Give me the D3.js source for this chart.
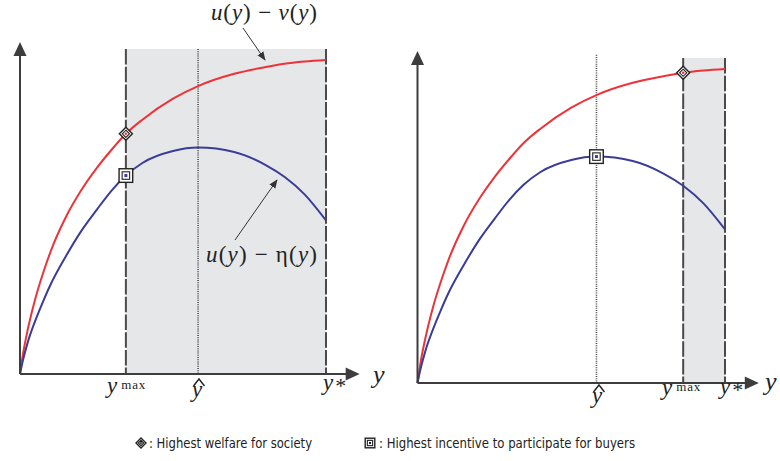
<!DOCTYPE html>
<html><head><meta charset="utf-8">
<script src="https://cdn.jsdelivr.net/npm/d3@7"></script>
<style>body{margin:0;background:#fff}svg{display:block}</style></head>
<body>
<svg id="c" width="780" height="461"></svg>
<script>
// ---- data (x in units of y*, values in units of u(y*)-v(y*)) ----
const xVals     = [0, 0.01, 0.025, 0.05, 0.075, 0.10, 0.15, 0.20, 0.25, 0.30, 0.346, 0.40, 0.50, 0.582, 0.70, 0.80, 0.864, 0.93, 1.00];
const welfare   = [0, 0.065, 0.14, 0.24, 0.32, 0.39, 0.50, 0.585, 0.655, 0.715, 0.765, 0.81, 0.877, 0.917, 0.956, 0.977, 0.988, 0.995, 1.000]; // u(y)-v(y)
const incentive = [0, 0.045, 0.10, 0.17, 0.23, 0.285, 0.375, 0.455, 0.522, 0.585, 0.632, 0.672, 0.710, 0.721, 0.707, 0.667, 0.628, 0.572, 0.489]; // u(y)-eta(y)
const yMaxValues = [0.346, 0.864];   // left panel, right panel
const yHat = 0.582, yStar = 1.0;
const legendLabels = [": Highest welfare for society", ": Highest incentive to participate for buyers"];

const RED = "#ee3338", BLUE = "#3a3d98", AX = "#3d3d3d", SHADE = "#e6e7e9", DASH = "#4a4a4a";
const SERIF = "'Liberation Serif','DejaVu Serif',serif";
const svg = d3.select("#c");

svg.append("defs").append("marker").attr("id","ah").attr("viewBox","0 0 10 10")
  .attr("refX",9).attr("refY",5).attr("markerWidth",9).attr("markerHeight",9)
  .attr("markerUnits","userSpaceOnUse").attr("orient","auto")
  .append("path").attr("d","M0,1 L10,5 L0,9 Z").attr("fill","#333");

const panels = [
  {r:[20,326], v:[374,60], ymax:yMaxValues[0], dotTop:1.035, lbl:{ymax:[107,393], hat:[192,397], star:[323,390], y:[373,383]}},
  {r:[417.5,725], v:[383,69], ymax:yMaxValues[1], dotTop:1.045, lbl:{ymax:[662,395], hat:[592,403], star:[720,394], y:[765,390]}}
];

function valAt(arr, x){ return arr[xVals.indexOf(x)]; }

function diamond(g, cx, cy, s, dotColor){
  const G = g.append("g").attr("transform",`translate(${cx},${cy})`);
  G.append("path").attr("d",`M0,${-s} L${s},0 L0,${s} L${-s},0 Z`).attr("fill","#fff").attr("stroke","#222").attr("stroke-width",1.4);
  G.append("path").attr("d",`M0,${-s*0.55} L${s*0.55},0 L0,${s*0.55} L${-s*0.55},0 Z`).attr("fill","none").attr("stroke","#222").attr("stroke-width",1.1);
  G.append("circle").attr("r",s*0.2).attr("fill",dotColor);
}
function square(g, cx, cy, s, dotColor){
  const G = g.append("g").attr("transform",`translate(${cx},${cy})`);
  G.append("rect").attr("x",-s).attr("y",-s).attr("width",2*s).attr("height",2*s).attr("fill","#fff").attr("stroke","#222").attr("stroke-width",1.4);
  G.append("rect").attr("x",-s*0.55).attr("y",-s*0.55).attr("width",1.1*s).attr("height",1.1*s).attr("fill","none").attr("stroke","#222").attr("stroke-width",1.1);
  G.append("rect").attr("x",-s*0.22).attr("y",-s*0.22).attr("width",0.44*s).attr("height",0.44*s).attr("fill",dotColor);
}

panels.forEach(p => {
  const xs = d3.scaleLinear().domain([0,1]).range(p.r);
  const ys = d3.scaleLinear().domain([0,1]).range(p.v);
  const g = svg.append("g");
  const x0 = xs(0), y0 = ys(0);

  g.append("rect").attr("x",xs(p.ymax)).attr("y",ys(1.035))
    .attr("width",xs(yStar)-xs(p.ymax)).attr("height",ys(0)-ys(1.035)).attr("fill",SHADE);
  g.append("line").attr("x1",xs(yHat)).attr("x2",xs(yHat)).attr("y1",ys(p.dotTop)).attr("y2",y0)
    .attr("stroke",DASH).attr("stroke-width",1.6).attr("stroke-dasharray","1,1.2");
  [p.ymax, yStar].forEach(v => g.append("line").attr("x1",xs(v)).attr("x2",xs(v)).attr("y1",ys(1.035)).attr("y2",y0)
    .attr("stroke",DASH).attr("stroke-width",2).attr("stroke-dasharray","15.5,2.2"));

  const line = arr => d3.line().x(d=>xs(d)).y((d,i)=>ys(arr[i])).curve(d3.curveMonotoneX)(xVals);
  g.append("path").attr("d",line(welfare)).attr("fill","none").attr("stroke",RED).attr("stroke-width",2);
  g.append("path").attr("d",line(incentive)).attr("fill","none").attr("stroke",BLUE).attr("stroke-width",2);

  const xTip = xs(1.11), yTip = ys(1.057);
  g.append("line").attr("x1",x0).attr("x2",xTip-10).attr("y1",y0).attr("y2",y0).attr("stroke",AX).attr("stroke-width",2);
  g.append("line").attr("x1",x0).attr("x2",x0).attr("y1",y0).attr("y2",yTip+10).attr("stroke",AX).attr("stroke-width",2);
  g.append("path").attr("d",`M${xTip},${y0} L${xTip-14},${y0-6.5} L${xTip-14},${y0+6.5} Z`).attr("fill",AX);
  g.append("path").attr("d",`M${x0},${yTip} L${x0-6.5},${yTip+14} L${x0+6.5},${yTip+14} Z`).attr("fill",AX);

  const L = p.lbl;
  g.append("text").attr("x",L.y[0]).attr("y",L.y[1]).attr("font-family",SERIF).attr("font-style","italic").attr("font-size",26).attr("fill","#222").text("y");
  const tm = g.append("text").attr("x",L.ymax[0]).attr("y",L.ymax[1]).attr("font-family",SERIF).attr("fill","#222");
  tm.append("tspan").attr("font-style","italic").attr("font-size",23).text("y");
  tm.append("tspan").attr("dx",4).attr("dy",-4).attr("font-size",13).attr("letter-spacing",0.8).text("max");
  g.append("text").attr("x",L.hat[0]).attr("y",L.hat[1]).attr("font-family",SERIF).attr("font-style","italic").attr("font-size",23).attr("fill","#222").text("y");
  const hx = L.hat[0]+7, hy = L.hat[1]-18;
  g.append("path").attr("d",`M${hx-5.5},${hy+7} L${hx},${hy} L${hx+5.5},${hy+7}`).attr("fill","none").attr("stroke","#222").attr("stroke-width",1.4);
  const ts = g.append("text").attr("x",L.star[0]).attr("y",L.star[1]).attr("font-family",SERIF).attr("fill","#222");
  ts.append("tspan").attr("font-style","italic").attr("font-size",23).text("y");
  ts.append("tspan").attr("dx",2).attr("dy",3).attr("font-size",22).text("*");

  diamond(g, xs(p.ymax), ys(valAt(welfare,p.ymax)), 6.5, RED);
  const sq = Math.min(p.ymax, yHat);
  square(g, xs(sq), ys(valAt(incentive,sq)), 6.8, BLUE);
});

function mathLabel(x, y, parts, len){
  const t = svg.append("text").attr("x",x).attr("y",y).attr("font-family",SERIF).attr("font-size",23).attr("fill","#222")
    .attr("textLength",len).attr("lengthAdjust","spacing");
  parts.forEach(([s,it]) => t.append("tspan").attr("font-style",it?"italic":"normal").text(s));
}
mathLabel(211, 20, [["u",1],["(",0],["y",1],[")",0],[" − ",0],["v",1],["(",0],["y",1],[")",0]], 106);
mathLabel(206, 262, [["u",1],["(",0],["y",1],[")",0],[" − ",0],["η",0],["(",0],["y",1],[")",0]], 111);
svg.append("line").attr("x1",243).attr("y1",28).attr("x2",265).attr("y2",60).attr("stroke","#333").attr("stroke-width",1).attr("marker-end","url(#ah)");
svg.append("line").attr("x1",235).attr("y1",240).attr("x2",277).attr("y2",180).attr("stroke","#333").attr("stroke-width",1).attr("marker-end","url(#ah)");

const LEG = "'Liberation Sans Narrow','DejaVu Sans Condensed','Liberation Sans',sans-serif";
diamond(svg, 141, 443, 5, "#222");
square(svg, 370, 443, 4.8, "#222");
svg.append("text").attr("x",149).attr("y",448).attr("font-family",LEG).attr("font-size",14.5).attr("fill","#222")
  .attr("textLength",163).attr("lengthAdjust","spacingAndGlyphs").text(legendLabels[0]);
svg.append("text").attr("x",379).attr("y",448).attr("font-family",LEG).attr("font-size",14.5).attr("fill","#222")
  .attr("textLength",256).attr("lengthAdjust","spacingAndGlyphs").text(legendLabels[1]);
</script>
</body></html>
